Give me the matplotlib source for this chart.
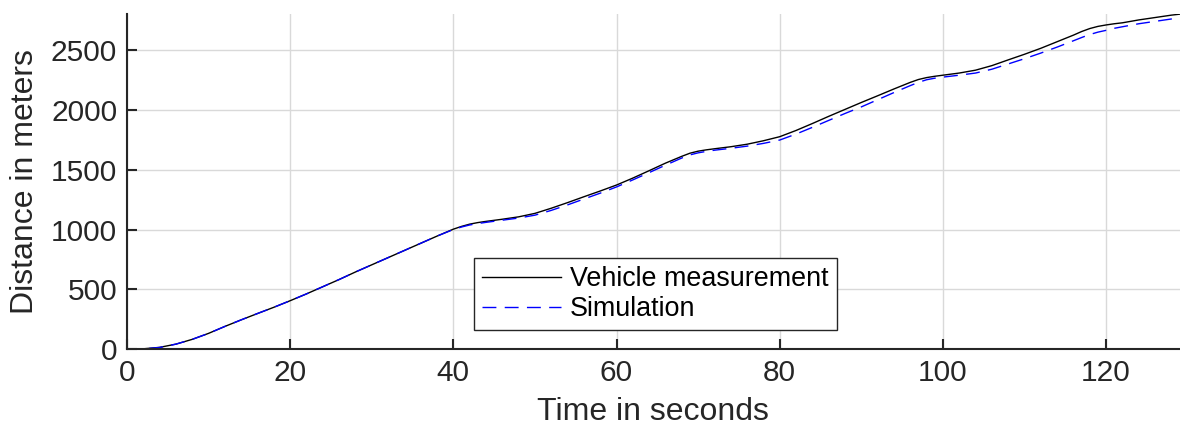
import matplotlib
matplotlib.use("Agg")
import matplotlib.pyplot as plt

plt.rcParams['font.family'] = ['Liberation Sans', 'DejaVu Sans']

# time in seconds
t_meas = [0, 2, 4, 6, 8, 10, 12, 14, 16, 18, 20, 22, 24, 26, 28, 30, 32, 34, 36, 38,
          40, 41, 42, 43, 44, 46, 48, 50, 52, 54, 56, 58, 60, 62, 64, 66, 68, 69, 70, 71,
          72, 74, 76, 78, 80, 82, 84, 86, 88, 90, 92, 94, 96, 97, 98, 99, 100, 102, 104,
          106, 108, 110, 112, 114, 116, 117, 118, 119, 120, 121, 122, 124, 126, 128, 129]
d_meas = [0, 3, 15, 42, 82, 132, 190, 245, 298, 350, 405, 462, 522, 582, 645, 705, 765, 825, 885, 945,
          1003, 1026, 1045, 1058, 1068, 1086, 1106, 1135, 1178, 1225, 1274, 1322, 1372, 1430, 1492, 1555, 1612, 1638, 1655, 1666,
          1675, 1692, 1713, 1742, 1776, 1828, 1886, 1946, 2004, 2062, 2118, 2175, 2230, 2254, 2270, 2281, 2290, 2308, 2332,
          2370, 2418, 2465, 2515, 2570, 2625, 2655, 2680, 2698, 2710, 2720, 2728, 2752, 2772, 2792, 2800]

t_sim = t_meas
d_sim = [0, 2, 14, 42, 82, 132, 190, 245, 298, 350, 405, 462, 522, 582, 645, 705, 765, 825, 885, 945,
         1000, 1021, 1038, 1050, 1060, 1078, 1096, 1120, 1160, 1206, 1255, 1304, 1356, 1415, 1476, 1538, 1598, 1624, 1641, 1653,
         1663, 1679, 1697, 1720, 1748, 1798, 1854, 1912, 1970, 2025, 2085, 2145, 2203, 2230, 2252, 2265, 2274, 2290, 2308,
         2340, 2384, 2428, 2475, 2525, 2578, 2605, 2630, 2650, 2665, 2682, 2695, 2720, 2740, 2760, 2768]

x_ticks = [0, 20, 40, 60, 80, 100, 120]
y_ticks = [0, 500, 1000, 1500, 2000, 2500]

txt = '#262626'

fig = plt.figure(figsize=(11.8, 4.3), dpi=100)
ax = fig.add_axes([0.1076, 0.188, 0.892, 0.779])

ax.plot(t_meas, d_meas, color='black', lw=1.0, label='Vehicle measurement')
ax.plot(t_sim, d_sim, color='blue', lw=1.0, dashes=(10, 6), label='Simulation')

ax.set_xlim(0, 129)
ax.set_ylim(0, 2800)
ax.set_xticks(x_ticks)
ax.set_yticks(y_ticks)
ax.grid(True, color='#d9d9d9', lw=1.0)
ax.set_axisbelow(True)

for s in ['top', 'right']:
    ax.spines[s].set_visible(False)
for s in ['left', 'bottom']:
    ax.spines[s].set_color(txt)
    ax.spines[s].set_linewidth(1.5)

ax.tick_params(direction='in', length=7, width=1.5, colors=txt, labelsize=21.5, pad=7)
ax.set_xlabel('Time in seconds', fontsize=23, color=txt, labelpad=7)
ax.set_ylabel('Distance in meters', fontsize=23, color=txt, labelpad=8)

leg = ax.legend(loc='lower left', bbox_to_anchor=(0.33, 0.057), fontsize=19.4,
                fancybox=False, framealpha=1, edgecolor='#262626', handlelength=2.9,
                borderpad=0.3, labelspacing=0.15, handletextpad=0.35, borderaxespad=0)
leg.get_frame().set_linewidth(1.0)

fig.savefig('out.png', dpi=100)
